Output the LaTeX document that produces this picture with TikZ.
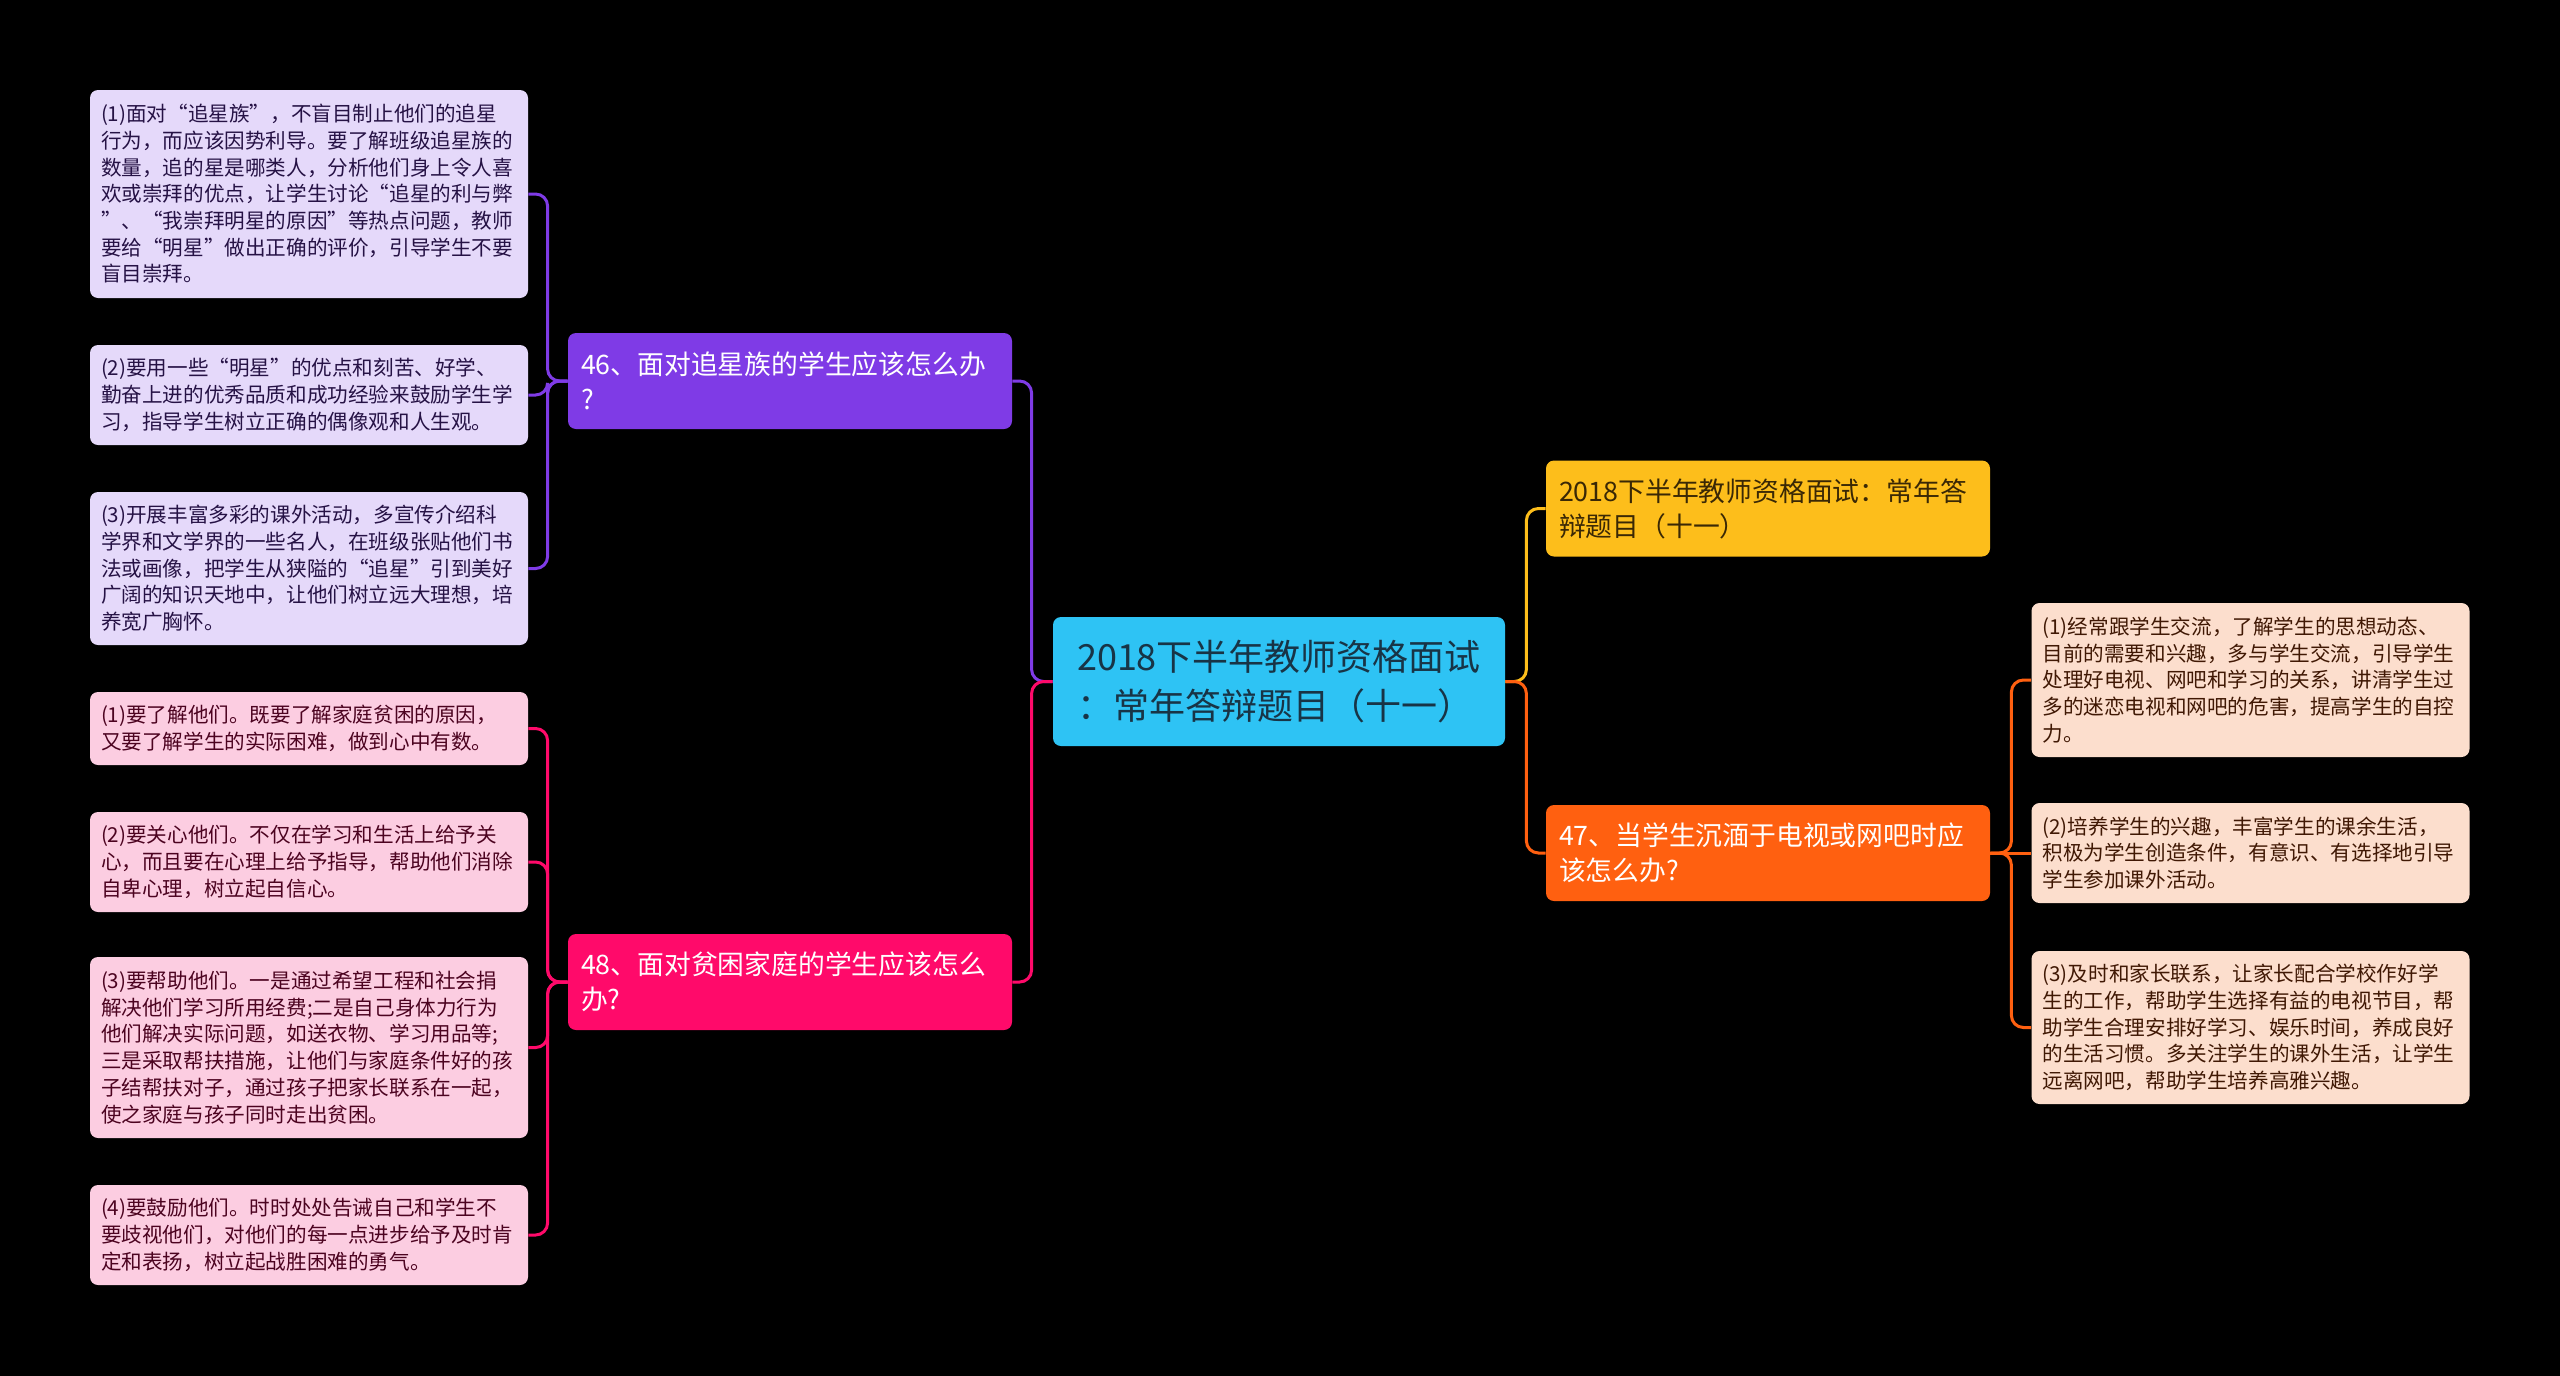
\documentclass[tikz,border=0pt]{standalone}
\usepackage{fontspec}
\setmainfont{Noto Sans CJK SC}
\usepackage{tikz}
\usetikzlibrary{positioning}
\definecolor{rootblue}{RGB}{46, 195, 244}
\definecolor{rootink}{RGB}{24, 52, 70}
\definecolor{starpurple}{RGB}{127, 59, 230}
\definecolor{poorpink}{RGB}{255, 10, 106}
\definecolor{titleyellow}{RGB}{253, 190, 27}
\definecolor{titleink}{RGB}{58, 40, 5}
\definecolor{netorange}{RGB}{255, 96, 16}
\definecolor{leafpurple}{RGB}{229, 217, 250}
\definecolor{leafpink}{RGB}{252, 205, 225}
\definecolor{leafpeach}{RGB}{252, 222, 205}

\begin{document}
\begin{tikzpicture}[
    x=0.5pt, y=-0.5pt,
    root/.style={rectangle, rounded corners=4pt, fill=rootblue, text=rootink, minimum width=226pt, minimum height=64.5pt, font=\fontsize{18}{24.5}\selectfont, align=left},
    branch/.style={rectangle, rounded corners=4pt, minimum height=48pt, text width=209pt, inner xsep=6.5pt, font=\fontsize{13.4}{17.5}\selectfont, align=left},
    leaf/.style={rectangle, rounded corners=4pt, text width=208pt, inner xsep=5.5pt, font=\fontsize{10.3}{13.35}\selectfont, align=left},
    link/.style={line width=1.5pt, rounded corners=6pt}
]
    \useasboundingbox (0,0) rectangle (2560,1376);
    \fill[black] (0,0) rectangle (2560,1376);

    \node[root] (root) at (1279,681.5) {2018下半年教师资格面试\\：常年答辩题目（十一）};

    \node[branch, fill=starpurple, text=white] (q46) at (790,381) {46、面对追星族的学生应该怎么办\\?};
    \node[branch, fill=poorpink, text=white] (q48) at (790,982) {48、面对贫困家庭的学生应该怎么\\办?};
    \node[branch, fill=titleyellow, text=titleink] (title) at (1768,508.5) {2018下半年教师资格面试：常年答\\辩题目（十一）};
    \node[branch, fill=netorange, text=white] (q47) at (1768,853) {47、当学生沉湎于电视或网吧时应\\该怎么办?};

    \node[leaf, fill=leafpurple, text=starpurple!30!black, minimum height=104pt] (s1) at (309,194) {(1)面对“追星族”，不盲目制止他们的追星\\
        行为，而应该因势利导。要了解班级追星族的\\
        数量，追的星是哪类人，分析他们身上令人喜\\
        欢或崇拜的优点，让学生讨论“追星的利与弊\\
        ”、“我崇拜明星的原因”等热点问题，教师\\
        要给“明星”做出正确的评价，引导学生不要\\
        盲目崇拜。};
    \node[leaf, fill=leafpurple, text=starpurple!30!black, minimum height=50pt] (s2) at (309,395) {(2)要用一些“明星”的优点和刻苦、好学、\\
        勤奋上进的优秀品质和成功经验来鼓励学生学\\
        习，指导学生树立正确的偶像观和人生观。};
    \node[leaf, fill=leafpurple, text=starpurple!30!black, minimum height=76.5pt] (s3) at (309,568.5) {(3)开展丰富多彩的课外活动，多宣传介绍科\\
        学界和文学界的一些名人，在班级张贴他们书\\
        法或画像，把学生从狭隘的“追星”引到美好\\
        广阔的知识天地中，让他们树立远大理想，培\\
        养宽广胸怀。};

    \node[leaf, fill=leafpink, text=poorpink!30!black, minimum height=36.5pt] (p1) at (309,728.5) {(1)要了解他们。既要了解家庭贫困的原因，\\
        又要了解学生的实际困难，做到心中有数。};
    \node[leaf, fill=leafpink, text=poorpink!30!black, minimum height=50pt] (p2) at (309,862) {(2)要关心他们。不仅在学习和生活上给予关\\
        心，而且要在心理上给予指导，帮助他们消除\\
        自卑心理，树立起自信心。};
    \node[leaf, fill=leafpink, text=poorpink!30!black, minimum height=90.5pt] (p3) at (309,1047.5) {(3)要帮助他们。一是通过希望工程和社会捐\\
        解决他们学习所用经费;二是自己身体力行为\\
        他们解决实际问题，如送衣物、学习用品等;\\
        三是采取帮扶措施，让他们与家庭条件好的孩\\
        子结帮扶对子，通过孩子把家长联系在一起，\\
        使之家庭与孩子同时走出贫困。};
    \node[leaf, fill=leafpink, text=poorpink!30!black, minimum height=50pt] (p4) at (309,1235) {(4)要鼓励他们。时时处处告诫自己和学生不\\
        要歧视他们，对他们的每一点进步给予及时肯\\
        定和表扬，树立起战胜困难的勇气。};

    \node[leaf, fill=leafpeach, text=netorange!25!black, minimum height=77pt] (n1) at (2250.5,680) {(1)经常跟学生交流，了解学生的思想动态、\\
        目前的需要和兴趣，多与学生交流，引导学生\\
        处理好电视、网吧和学习的关系，讲清学生过\\
        多的迷恋电视和网吧的危害，提高学生的自控\\
        力。};
    \node[leaf, fill=leafpeach, text=netorange!25!black, minimum height=50pt] (n2) at (2250.5,853) {(2)培养学生的兴趣，丰富学生的课余生活，\\
        积极为学生创造条件，有意识、有选择地引导\\
        学生参加课外活动。};
    \node[leaf, fill=leafpeach, text=netorange!25!black, minimum height=76.5pt] (n3) at (2250.5,1027.5) {(3)及时和家长联系，让家长配合学校作好学\\
        生的工作，帮助学生选择有益的电视节目，帮\\
        助学生合理安排好学习、娱乐时间，养成良好\\
        的生活习惯。多关注学生的课外生活，让学生\\
        远离网吧，帮助学生培养高雅兴趣。};

    \draw[link, starpurple] (root.west) -- ++(-21,0) |- (q46.east);
    \draw[link, poorpink] (root.west) -- ++(-21,0) |- (q48.east);
    \draw[link, titleyellow] (root.east) -- ++(21,0) |- (title.west);
    \draw[link, netorange] (root.east) -- ++(21,0) |- (q47.west);

    \foreach \leaf in {s1,s2,s3}
        \draw[link, starpurple] (q46.west) -- ++(-20,0) |- (\leaf.east);
    \foreach \leaf in {p1,p2,p3,p4}
        \draw[link, poorpink] (q48.west) -- ++(-20,0) |- (\leaf.east);
    \draw[link, netorange] (q47.east) -- (n2.west);
    \foreach \leaf in {n1,n3}
        \draw[link, netorange] (q47.east) -- ++(21,0) |- (\leaf.west);
\end{tikzpicture}
\end{document}
